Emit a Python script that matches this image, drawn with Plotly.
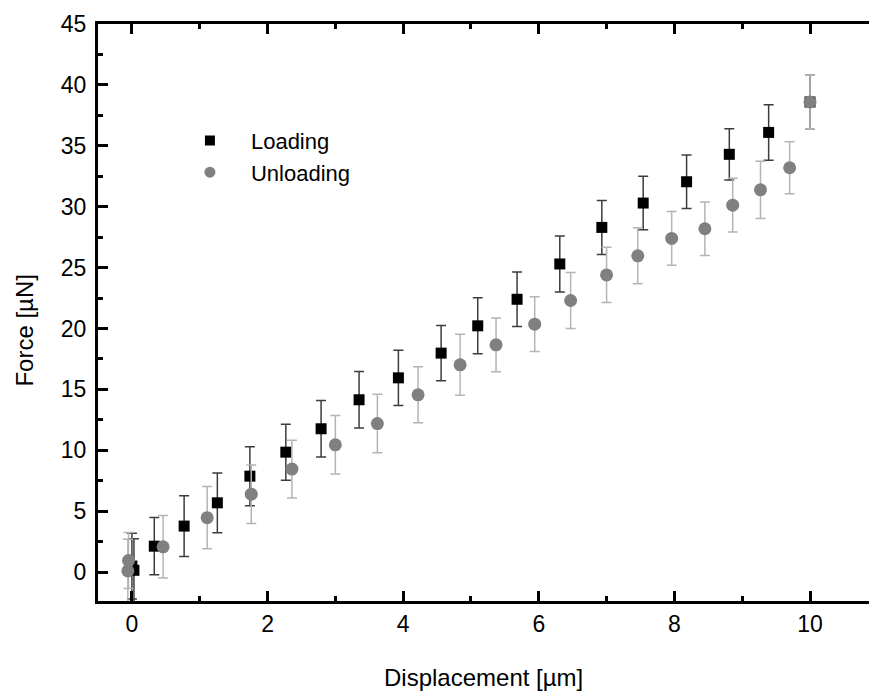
import plotly.graph_objects as go

# Loading data (black squares)
load_x = [0.0, 0.03, 0.33, 0.77, 1.26, 1.74, 2.27, 2.79, 3.35, 3.93, 4.56, 5.10,
          5.68, 6.31, 6.93, 7.54, 8.18, 8.81, 9.39, 10.0]
load_y = [0.5, 0.15, 2.13, 3.78, 5.69, 7.88, 9.85, 11.77, 14.15, 15.95, 17.98, 20.22,
          22.4, 25.3, 28.3, 30.3, 32.05, 34.3, 36.1, 38.6]
load_err = [2.7, 2.6, 2.35, 2.5, 2.45, 2.42, 2.3, 2.32, 2.32, 2.26, 2.26, 2.3,
            2.24, 2.3, 2.22, 2.2, 2.19, 2.1, 2.28, 2.2]

# Unloading data (gray circles)
unload_x = [-0.06, -0.05, 0.46, 1.11, 1.76, 2.36, 3.0, 3.62, 4.22, 4.84, 5.37, 5.94,
            6.47, 7.0, 7.46, 7.96, 8.45, 8.86, 9.27, 9.70, 10.0]
unload_y = [0.1, 0.95, 2.08, 4.47, 6.4, 8.46, 10.45, 12.2, 14.56, 17.02, 18.66, 20.36,
            22.3, 24.4, 25.97, 27.4, 28.19, 30.13, 31.39, 33.2, 38.6]
unload_err = [2.6, 2.3, 2.57, 2.55, 2.4, 2.37, 2.4, 2.4, 2.3, 2.5, 2.2, 2.24,
              2.3, 2.27, 2.3, 2.2, 2.2, 2.2, 2.35, 2.13, 2.2]

x_ticks = [0, 2, 4, 6, 8, 10]
y_ticks = [0, 5, 10, 15, 20, 25, 30, 35, 40, 45]
y_range = [-2.37, 45]

FONT = "Liberation Sans, Arial, sans-serif"

fig = go.Figure()
fig.add_trace(go.Scatter(
    x=load_x, y=load_y, mode="markers", name="Loading", showlegend=False,
    marker=dict(symbol="square", size=11, color="black"),
    error_y=dict(type="data", array=load_err, visible=True, color="#3c3c3c",
                 thickness=1.5, width=5),
))
fig.add_trace(go.Scatter(
    x=unload_x, y=unload_y, mode="markers", name="Unloading", showlegend=False,
    marker=dict(symbol="circle", size=13, color="#808080"),
    error_y=dict(type="data", array=unload_err, visible=True, color="#b4b4b4",
                 thickness=1.5, width=5),
))
# legend entries
fig.add_trace(go.Scatter(x=[None], y=[None], mode="markers", name="Loading",
                         marker=dict(symbol="square", size=10, color="black")))
fig.add_trace(go.Scatter(x=[None], y=[None], mode="markers", name="Unloading",
                         marker=dict(symbol="circle", size=11, color="#808080")))

axis_common = dict(
    showline=True, linewidth=3, linecolor="black",
    ticks="inside", ticklen=10, tickwidth=3, tickcolor="black",
    showgrid=False, zeroline=False,
    tickfont=dict(family=FONT, size=23, color="black"),
)

fig.update_xaxes(range=[-0.5, 10.87], tickvals=x_ticks, mirror="ticks",
                 minor=dict(ticks="inside", ticklen=5, tickwidth=3, dtick=1,
                            tick0=0, tickcolor="black"),
                 **axis_common)
fig.update_yaxes(range=y_range, tickvals=y_ticks, mirror=False,
                 ticklabelstandoff=4,
                 minor=dict(ticks="inside", ticklen=5, tickwidth=3, dtick=2.5,
                            tick0=0, tickcolor="black"),
                 **axis_common)

fig.update_layout(
    width=869, height=693,
    margin=dict(l=98, r=0, t=24, b=92),
    plot_bgcolor="white", paper_bgcolor="white",
    font=dict(family=FONT, color="black"),
    yaxis2=dict(overlaying="y", side="right", range=y_range, tickvals=y_ticks,
                ticks="inside", ticklen=5, tickwidth=3, tickcolor="black",
                showticklabels=False, showline=False, showgrid=False,
                zeroline=False),
    legend=dict(x=0.092, y=0.834, xanchor="left", yanchor="top",
                bgcolor="rgba(0,0,0,0)", font=dict(family=FONT, size=22),
                itemwidth=72, tracegroupgap=0),
    annotations=[
        dict(text="Displacement [µm]", xref="paper", yref="paper",
             x=0.5, y=-0.106, xanchor="center", yanchor="top", showarrow=False,
             font=dict(family=FONT, size=24, color="black")),
        dict(text="Force [µN]", xref="paper", yref="paper",
             x=-0.095, y=0.47, xanchor="center", yanchor="middle", textangle=-90,
             showarrow=False, font=dict(family=FONT, size=24, color="black")),
    ],
)

fig.write_html("out.html")
